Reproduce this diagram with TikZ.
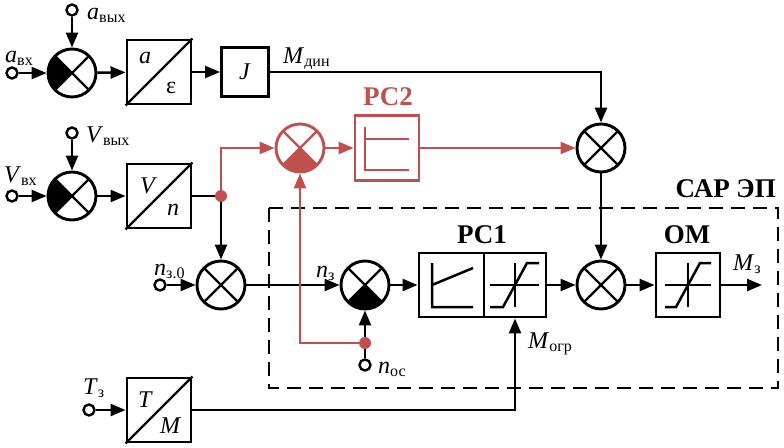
\documentclass[tikz,border=0pt]{standalone}
\usepackage{fontspec}
\setmainfont{Liberation Serif}
\usetikzlibrary{arrows.meta}
\definecolor{rcred}{RGB}{192,80,77}
\newcommand\sub[1]{\raisebox{-3pt}{\fontsize{16}{16}\selectfont #1}}
\newcommand\xsum[4]{%
  \node[sumj,draw=#3] (#1) at (#2) {};
  \ifnum#4>-1 \fill[#3] (#1.center) -- ++(#4:23) arc[start angle=#4,delta angle=90,radius=23] -- cycle;\fi
  \draw[line width=2.3pt,#3] (#1.center) ++(45:23) -- ++(225:46) (#1.center) ++(135:23) -- ++(315:46);
}
\begin{document}
\begin{tikzpicture}[x=1pt,y=-1pt,
  blk/.style={draw, line width=2.9pt, minimum width=64pt, minimum height=64pt, inner sep=0pt, fill=white},
  sumj/.style={circle, draw, line width=2.9pt, minimum size=48pt, inner sep=0pt, fill=white},
  inp/.style={circle, draw, line width=2.4pt, minimum size=11pt, inner sep=0pt, fill=white},
  dotr/.style={circle, fill=rcred, minimum size=12pt, inner sep=0pt},
  wire/.style={line width=2.5pt},
  conn/.style={line width=2.5pt, -{Triangle[length=15pt,width=12pt]}},
  chr/.style={line width=2.5pt},
  lbl/.style={font=\fontsize{24}{24}\selectfont, inner sep=0pt},
  ttl/.style={font=\bfseries\fontsize{27}{27}\selectfont, inner sep=0pt},
  sarbox/.style={line width=2.2pt, dash pattern=on 14pt off 8pt}
]
\useasboundingbox (0,0) rectangle (784,447);
\draw[sarbox] (269,208) rectangle (778,388);

% row 1
\node[inp] (ia) at (12,73) {};
\xsum{sa}{72,73}{black}{135}
\node[inp] (ia2) at (72,10) {};
\node[blk] (ae) at (159,72) {};
\draw[line width=2.3pt] (ae.south west) -- (ae.north east);
\node[lbl, anchor=base west] at (139,63) {\textit{a}};
\node[lbl, anchor=base west] at (166,93) {ε};
\node[blk, minimum width=47pt, minimum height=49pt] (J) at (245,72) {\fontsize{24}{24}\selectfont\textit{J}};

% row 2
\node[inp] (iv) at (12,196) {};
\xsum{sv}{72,196}{black}{135}
\node[inp] (iv2) at (72,133) {};
\node[blk] (vn) at (159,196) {};
\draw[line width=2.3pt] (vn.south west) -- (vn.north east);
\node[lbl, anchor=base west] at (140,193) {\textit{V}};
\node[lbl, anchor=base west] at (167,215) {\textit{n}};
\node[dotr] (d1) at (221,196) {};
\xsum{sr}{300,148}{rcred}{45}
\node[blk, draw=rcred, minimum height=65pt] (rc2) at (387,148) {};
\draw[chr, rcred] (365,127) -- (365,170) -- (409,170) (365,139) -- (409,139);
\xsum{s3}{601,148}{black}{-1}

% row 3
\node[inp] (in0) at (160,285) {};
\xsum{s0}{221,285}{black}{-1}
\xsum{sn}{365,285}{black}{45}
\node[dotr] (d2) at (365,343) {};
\node[inp] (inoc) at (365,365) {};
\node[blk, minimum width=65pt] (rc1a) at (451.5,285) {};
\node[blk, minimum width=62pt] (rc1b) at (515,285) {};
\draw[chr] (432,263) -- (432,307) -- (473,307) (432,285) -- (473,268);
\draw[chr] (490,285) -- (539,285) (515,263) -- (515,307);
\draw[chr] (490,307) -- (503,307) -- (527,263) -- (539,263);
\xsum{sm}{601,285}{black}{-1}
\node[blk] (om) at (688,285) {};
\draw[chr] (665,285) -- (711,285) (688,263) -- (688,307);
\draw[chr] (665,307) -- (676,307) -- (700,263) -- (711,263);
\coordinate (mout) at (762,285);

% row 4
\node[inp] (iT) at (89,410) {};
\node[blk] (tm) at (159,410) {};
\draw[line width=2.3pt] (tm.south west) -- (tm.north east);
\node[lbl, anchor=base west] at (138,407) {\textit{T}};
\node[lbl, anchor=base west] at (160,433) {\textit{M}};

% connectors
\draw[conn] (ia) -- (sa);
\draw[conn] (ia2) -- (sa);
\draw[conn] (sa) -- (ae);
\draw[conn] (ae) -- (J);
\draw[conn] (J) -| (s3);
\draw[conn] (iv) -- (sv);
\draw[conn] (iv2) -- (sv);
\draw[conn] (sv) -- (vn);
\draw[wire] (vn) -- (d1);
\draw[conn] (d1) -- (s0);
\draw[conn, rcred] (d1) |- (sr);
\draw[conn, rcred] (sr) -- (rc2);
\draw[conn, rcred] (rc2) -- (s3);
\draw[conn] (s3) -- (sm);
\draw[conn] (in0) -- (s0);
\draw[conn] (s0) -- (sn);
\draw[wire] (inoc) -- (d2);
\draw[conn] (d2) -- (sn);
\draw[conn, rcred] (d2) -| (sr);
\draw[conn] (sn) -- (rc1a);
\draw[conn] (rc1b) -- (sm);
\draw[conn] (sm) -- (om);
\draw[conn] (om) -- (mout);
\draw[conn] (iT) -- (tm);
\draw[conn] (tm) -| (rc1b);

% labels
\node[lbl, anchor=base west] at (87,19) {\textit{a}\sub{вых}};
\node[lbl, anchor=base west] at (5,62) {\textit{a}\sub{вх}};
\node[lbl, anchor=base west] at (283,63) {\textit{M}\sub{дин}};
\node[lbl, anchor=base west] at (86,142) {\textit{V}\sub{вых}};
\node[lbl, anchor=base west] at (4,182) {\textit{V}\sub{вх}};
\node[lbl, anchor=base west] at (154,275) {\textit{n}\sub{з.0}};
\node[lbl, anchor=base west] at (316,277) {\textit{n}\sub{з}};
\node[lbl, anchor=base west] at (378,373) {\textit{n}\sub{ос}};
\node[lbl, anchor=base west] at (528,348) {\textit{M}\sub{огр}};
\node[lbl, anchor=base west] at (733,270) {\textit{M}\sub{з}};
\node[lbl, anchor=base west] at (83,394) {\textit{T}\sub{з}};
\node[ttl, text=rcred] at (388,97) {РС2};
\node[ttl] at (482,235) {РС1};
\node[ttl] at (687,235) {ОМ};
\node[ttl, anchor=base east] at (776,197) {САР ЭП};
\end{tikzpicture}
\end{document}
